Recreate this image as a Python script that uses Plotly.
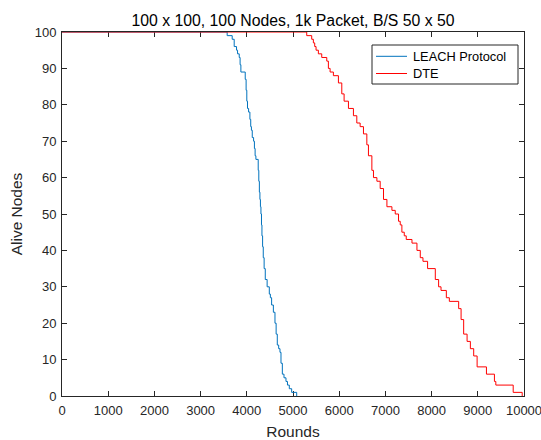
import plotly.graph_objects as go

# LEACH Protocol: round at which alive count changes, and the new alive count
leach_rounds = [0, 3575, 3684, 3727, 3778, 3800, 3836, 3855, 3872, 3966, 3985, 4000, 4015, 4039,
                4067, 4085, 4100, 4118, 4147, 4165, 4180, 4197, 4247, 4260, 4272, 4284, 4295,
                4306, 4318, 4328, 4342, 4356, 4375, 4400, 4440, 4487, 4510, 4537, 4575, 4610,
                4635, 4660, 4690, 4718, 4740, 4769, 4805, 4848, 4880, 4920, 4971, 5080]
leach_alive = [100, 99, 98, 96, 95, 94, 93, 91, 89, 87, 84, 81, 79, 78,
               76, 74, 73, 71, 70, 68, 66, 65, 62, 59, 56, 54, 52,
               50, 47, 44, 41, 38, 35, 32, 30, 28, 27, 25, 23, 20,
               17, 14, 13, 12, 9, 6, 5, 4, 3, 2, 1, 0]

# DTE
dte_rounds = [0, 5297, 5405, 5441, 5470, 5499, 5549, 5622, 5731, 5766, 5803, 5874, 5983, 6056,
              6106, 6200, 6308, 6381, 6453, 6525, 6598, 6633, 6707, 6742, 6816, 6887, 6959,
              7033, 7141, 7213, 7284, 7321, 7357, 7408, 7451, 7575, 7683, 7755, 7813, 7913,
              8080, 8152, 8204, 8319, 8384, 8586, 8638, 8694, 8768, 8839, 8911, 8985, 9187,
              9360, 9390, 9766, 9961]
dte_alive = [100, 99, 98, 97, 96, 95, 94, 93, 92, 90, 89, 88, 86, 83,
             81, 79, 77, 75, 74, 72, 69, 66, 62, 60, 59, 57, 54,
             52, 51, 50, 48, 47, 45, 44, 43, 42, 40, 38, 37, 35,
             32, 30, 29, 27, 26, 24, 21, 17, 15, 13, 11, 8, 6,
             4, 3, 1, 0]

series_names = ["LEACH Protocol", "DTE"]
series_colors = ["#0072BD", "#FF0000"]

x_ticks = list(range(0, 10001, 1000))
y_ticks = list(range(0, 101, 10))

AX = "#262626"
FONT = "Liberation Sans, Arial, Helvetica, sans-serif"

W, H = 541, 440
L, R, T, B = 62, 17, 32, 44


def px(x):
    return (x - L) / (W - L - R)


def py(y):
    return (H - B - y) / (H - T - B)


fig = go.Figure()
fig.add_trace(go.Scatter(x=leach_rounds, y=leach_alive, mode="lines", line_shape="hv",
                         name=series_names[0], line=dict(color=series_colors[0], width=1)))
fig.add_trace(go.Scatter(x=dte_rounds, y=dte_alive, mode="lines", line_shape="hv",
                         name=series_names[1], line=dict(color=series_colors[1], width=1)))

axis_common = dict(showline=True, linecolor=AX, linewidth=1, mirror="ticks",
                   ticks="inside", ticklen=5, tickwidth=1, tickcolor=AX,
                   showgrid=False, zeroline=False, layer="below traces", automargin=False,
                   ticklabeloverflow="allow",
                   tickfont=dict(family=FONT, size=13, color=AX))

# legend box drawn in paper coordinates
shapes = [dict(type="rect", xref="paper", yref="paper",
               x0=px(372), x1=px(518), y0=py(84), y1=py(45),
               line=dict(color=AX, width=1), fillcolor="white", layer="above")]
annotations = []
for i, (nm, col) in enumerate(zip(series_names, series_colors)):
    yy = 56.3 + i * 17.2
    shapes.append(dict(type="line", xref="paper", yref="paper",
                       x0=px(376), x1=px(407), y0=py(yy), y1=py(yy),
                       line=dict(color=col, width=1), layer="above"))
    annotations.append(dict(text=nm, xref="paper", yref="paper", x=px(411), y=py(yy),
                            xanchor="left", yanchor="middle", showarrow=False,
                            font=dict(family=FONT, size=12.8, color="#000000")))

fig.update_layout(
    width=W, height=H,
    margin=dict(l=L, r=R, t=T, b=B, autoexpand=False),
    paper_bgcolor="white", plot_bgcolor="white",
    font=dict(family=FONT, color=AX),
    title=dict(text="100 x 100, 100 Nodes, 1k Packet, B/S 50 x 50",
               font=dict(family=FONT, size=15.8, color="#000000"),
               x=px(293), xref="paper", xanchor="center",
               y=1 - 20.5 / H, yref="container", yanchor="middle"),
    xaxis=dict(range=[0, 10000], tickvals=x_ticks, ticktext=[str(v) for v in x_ticks],
               ticklabelstandoff=2,
               title=dict(text="Rounds", font=dict(family=FONT, size=15.5, color=AX), standoff=11),
               **axis_common),
    yaxis=dict(range=[0, 100], tickvals=y_ticks, ticktext=[str(v) for v in y_ticks],
               ticklabelstandoff=2,
               title=dict(text="Alive Nodes", font=dict(family=FONT, size=15.5, color=AX), standoff=8),
               **axis_common),
    shapes=shapes,
    annotations=annotations,
    showlegend=False,
)

fig.write_html("out.html", config={"displayModeBar": False},
               post_script="document.body.style.margin='0px';")
